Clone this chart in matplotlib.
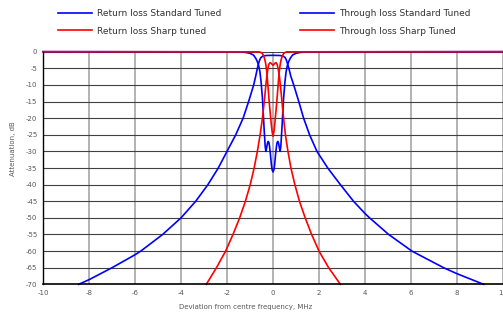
import matplotlib
matplotlib.use("Agg")
import matplotlib.pyplot as plt

# Return loss, standard tuned (blue)
x_rl_std = [-10, -1.5, -1.2, -1.0, -0.85, -0.75, -0.68, -0.62, -0.57, -0.52, -0.46, -0.42, -0.38,
            -0.34, -0.31, -0.28, -0.24, -0.21, -0.18, -0.15, -0.11, -0.07, -0.04, 0,
            0.04, 0.07, 0.11, 0.15, 0.18, 0.21, 0.24, 0.28, 0.31, 0.34, 0.38, 0.42, 0.46,
            0.52, 0.57, 0.62, 0.68, 0.75, 0.85, 1.0, 1.2, 1.5, 10]
y_rl_std = [0, -0.05, -0.2, -0.5, -1.0, -2.0, -3.0, -4.3, -6.0, -9.0, -14.0, -19.0, -24.0,
            -28.5, -30.0, -29.0, -27.5, -27.0, -27.3, -28.5, -31.0, -34.0, -35.5, -36.2,
            -35.5, -34.0, -31.0, -28.5, -27.3, -27.0, -27.5, -29.0, -30.0, -28.5, -24.0, -19.0, -14.0,
            -9.0, -6.0, -4.3, -3.0, -2.0, -1.0, -0.5, -0.2, -0.05, 0]

# Through loss, standard tuned (blue)
x_tl_std = [-8.45, -8.0, -7.0, -6.0, -5.75, -4.8, -4.0, -3.36, -2.83, -2.38, -2.0, -1.62, -1.30,
            -1.06, -0.84, -0.75, -0.68, -0.63, -0.58, -0.53, -0.45, -0.3, 0, 0.3, 0.45, 0.53,
            0.58, 0.63, 0.69, 0.77, 0.9, 1.12, 1.33, 1.59, 1.91, 2.38, 2.93, 3.5, 4.0, 4.2,
            5.03, 6.04, 7.42, 8.0, 9.16]
y_tl_std = [-70, -68.6, -65, -61.1, -60, -55, -50, -45, -40, -35, -30, -25, -20,
            -15, -10, -7.3, -5.0, -3.6, -2.5, -1.8, -1.35, -1.15, -1.1, -1.15, -1.35, -1.8,
            -2.5, -3.6, -5.0, -7.3, -10, -15, -20, -25, -30, -35, -40, -45, -48.7, -50,
            -55, -60, -65, -66.8, -70]

# Return loss, sharp tuned (red)
x_rl_sharp = [-10, -0.6, -0.5, -0.43, -0.37, -0.32, -0.28, -0.24, -0.2, -0.16, -0.12, -0.08,
              -0.04, 0, 0.04, 0.08, 0.12, 0.16, 0.2, 0.24, 0.28, 0.32, 0.37, 0.43, 0.5, 0.6, 10]
y_rl_sharp = [0, -0.05, -0.3, -0.9, -2.0, -3.5, -5.5, -8.5, -12.0, -15.5, -18.5, -21.5,
              -24.0, -25.5, -24.0, -21.5, -18.5, -15.5, -12.0, -8.5, -5.5, -3.5, -2.0, -0.9, -0.3, -0.05, 0]

# Through loss, sharp tuned (red)
x_tl_sharp = [-2.9, -2.46, -2.06, -1.74, -1.45, -1.2, -0.99, -0.82, -0.68, -0.56, -0.46, -0.38,
              -0.31, -0.26, -0.22, -0.18, -0.13, -0.08, 0, 0.08, 0.13, 0.18, 0.22, 0.27,
              0.32, 0.39, 0.46, 0.54, 0.65, 0.78, 0.95, 1.15, 1.4, 1.68, 2.0, 2.42, 2.93]
y_tl_sharp = [-70, -65, -60, -55, -50, -45, -40, -35, -30, -25, -20, -15,
              -10, -7.0, -5.0, -3.8, -3.3, -3.5, -4.1, -3.5, -3.3, -3.8, -5.0, -7.0,
              -10, -15, -20, -25, -30, -35, -40, -45, -50, -55, -60, -65, -70]

x_ticks = [-10, -8, -6, -4, -2, 0, 2, 4, 6, 8, 10]
y_ticks = list(range(0, -75, -5))

BLUE = "#0000ff"
RED = "#ff0000"
GREY_TXT = "#595959"

fig = plt.figure(figsize=(5.03, 3.17), dpi=100)
ax = fig.add_axes([0.0855, 0.103, 0.9145, 0.734])

ax.set_xlim(-10, 10)
ax.set_ylim(-70, 0)
ax.set_xticks(x_ticks)
ax.set_yticks(y_ticks)

for xt in x_ticks:
    ax.axvline(xt, color="#a6a6a6", lw=1.2, zorder=1)
for yt in y_ticks:
    ax.axhline(yt, color="#404040", lw=0.8, zorder=1)

l1, = ax.plot(x_rl_std, y_rl_std, color=BLUE, lw=1.2, clip_on=False, zorder=3)
l3, = ax.plot(x_tl_std, y_tl_std, color=BLUE, lw=1.2, clip_on=False, zorder=3)
l2, = ax.plot(x_rl_sharp, y_rl_sharp, color=RED, lw=1.2, clip_on=False, zorder=4)
l4, = ax.plot(x_tl_sharp, y_tl_sharp, color=RED, lw=1.2, clip_on=False, zorder=4)

for s in ["top", "right"]:
    ax.spines[s].set_visible(False)
ax.spines["left"].set_color("black")
ax.spines["left"].set_linewidth(1.0)
ax.spines["bottom"].set_color("black")
ax.spines["bottom"].set_linewidth(1.2)
ax.spines["left"].set_zorder(5)
ax.spines["bottom"].set_zorder(5)

ax.tick_params(length=0, labelsize=5, labelcolor=GREY_TXT, pad=4)
ax.set_xticklabels([str(v) for v in x_ticks])
ax.set_yticklabels([str(v) for v in y_ticks])

fig.text(0.026, 0.53, "Attenuation, dB", rotation=90, ha="center", va="center",
         fontsize=5, color=GREY_TXT)
fig.text(0.489, 0.032, "Deviation from centre frequency, MHz", ha="center", va="center",
         fontsize=5, color=GREY_TXT)

leg_kw = dict(frameon=False, fontsize=6.5, handlelength=3.8, handletextpad=0.55,
              labelspacing=0.95, borderpad=0, borderaxespad=0, loc="upper left")
fig.legend([l1, l2], ["Return loss Standard Tuned", "Return loss Sharp tuned"],
           bbox_to_anchor=(58 / 503, 1 - 9 / 317), labelcolor="#333333", **leg_kw)
fig.legend([l3, l4], ["Through loss Standard Tuned", "Through loss Sharp Tuned"],
           bbox_to_anchor=(300 / 503, 1 - 9 / 317), labelcolor="#333333", **leg_kw)

fig.savefig("out.png", dpi=100)
